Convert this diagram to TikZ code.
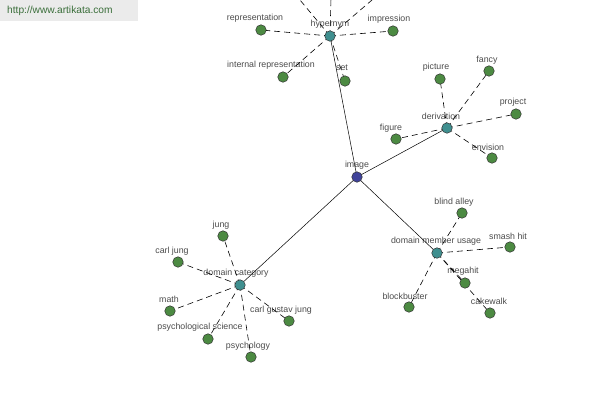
\documentclass[tikz,border=0pt]{standalone}
\usepackage{fontspec}
\setmainfont{Liberation Sans}
\usetikzlibrary{backgrounds}
\begin{document}
\begin{tikzpicture}[x=1pt,y=-1pt,
  leaf/.style={circle,draw=black!80,fill=leafgreen,line width=0.5pt,minimum size=10.5pt,inner sep=0pt},
  hub/.style={circle,draw=black!80,fill=hubteal,line width=0.5pt,minimum size=10.5pt,inner sep=0pt},
  root/.style={circle,draw=black!80,fill=rootblue,line width=0.5pt,minimum size=10.5pt,inner sep=0pt},
  lbl/.style={inner sep=0pt,text=black!70,font=\fontsize{8.8}{10}\selectfont},
  solidedge/.style={draw=black,line width=0.5pt},
  dashedge/.style={draw=black,line width=0.6pt,dash pattern=on 6pt off 4pt}]
\definecolor{leafgreen}{HTML}{4C8A42}
\definecolor{hubteal}{HTML}{3F8F8F}
\definecolor{rootblue}{HTML}{40439A}
\definecolor{wmgreen}{HTML}{3A6E3A}
\useasboundingbox (0,0) rectangle (600,400);
\clip (0,0) rectangle (600,400);

% nodes
\node[root] (img) at (357,177) {};
\node[hub] (hyp) at (330,36) {};
\node[hub] (der) at (447,128) {};
\node[hub] (dmu) at (437,253) {};
\node[hub] (dc) at (240,285) {};
\coordinate (off1) at (270,-36);
\coordinate (off2) at (332,-40);
\coordinate (off3) at (414,-36);

\node[leaf] (rep) at (261,30) {};
\node[leaf] (imp) at (393,31) {};
\node[leaf] (int) at (283,77) {};
\node[leaf] (set) at (345,81) {};
\node[leaf] (pic) at (440,79) {};
\node[leaf] (fan) at (489,71) {};
\node[leaf] (pro) at (516,114) {};
\node[leaf] (fig) at (396,139) {};
\node[leaf] (env) at (492,158) {};
\node[leaf] (bli) at (462,213) {};
\node[leaf] (sma) at (510,247) {};
\node[leaf] (meg) at (465,283) {};
\node[leaf] (cak) at (490,313) {};
\node[leaf] (blo) at (409,307) {};
\node[leaf] (jun) at (223,236) {};
\node[leaf] (cj) at (178,262) {};
\node[leaf] (mat) at (170,311) {};
\node[leaf] (psc) at (208,339) {};
\node[leaf] (cgj) at (289,321) {};
\node[leaf] (psy) at (251,357) {};

\begin{scope}[on background layer]
\fill[white] (0,0) rectangle (600,400);
\fill[black!8] (0,0) rectangle (138,21);
\node[inner sep=0pt,text=wmgreen,font=\fontsize{10.2}{12}\selectfont,anchor=west] (wm) at (7,11) {http://www.artikata.com};

% labels
\node[lbl] (l-img) at (357,165) {image};
\node[lbl] (l-hyp) at (330,24) {hypernym};
\node[lbl] (l-rep) at (255,18) {representation};
\node[lbl] (l-imp) at (389,19) {impression};
\node[lbl] (l-int) at (271,65) {internal representation};
\node[lbl] (l-set) at (342,68) {set};
\node[lbl] (l-der) at (441,116) {derivation};
\node[lbl] (l-pic) at (436,67) {picture};
\node[lbl] (l-fan) at (487,60) {fancy};
\node[lbl] (l-pro) at (513,102) {project};
\node[lbl] (l-fig) at (391,128) {figure};
\node[lbl] (l-env) at (488,147) {envision};
\node[lbl] (l-dmu) at (436,241) {domain member usage};
\node[lbl] (l-bli) at (454,202) {blind alley};
\node[lbl] (l-sma) at (508,236) {smash hit};
\node[lbl] (l-meg) at (463,271) {megahit};
\node[lbl] (l-cak) at (489,301) {cakewalk};
\node[lbl] (l-blo) at (405,296) {blockbuster};
\node[lbl] (l-dc) at (236,273) {domain category};
\node[lbl] (l-jun) at (221,225) {jung};
\node[lbl] (l-cj) at (172,251) {carl jung};
\node[lbl] (l-mat) at (169,299) {math};
\node[lbl] (l-psc) at (200,327) {psychological science};
\node[lbl] (l-cgj) at (281,310) {carl gustav jung};
\node[lbl] (l-psy) at (248,346) {psychology};

% solid edges
\draw[solidedge] (img.center) -- (hyp.center);
\draw[solidedge] (img.center) -- (der.center);
\draw[solidedge] (img.center) -- (dmu.center);
\draw[solidedge] (img.center) -- (dc.center);

% dashed edges
\foreach \a in {rep,imp,int,set} \draw[dashedge] (hyp.center) -- (\a.center);
\foreach \a in {off1,off2,off3} \draw[dashedge] (hyp.center) -- (\a);
\foreach \a in {pic,fan,pro,fig,env} \draw[dashedge] (der.center) -- (\a.center);
\foreach \a in {bli,sma,meg,cak,blo} \draw[dashedge] (dmu.center) -- (\a.center);
\foreach \a in {jun,cj,mat,psc,cgj,psy} \draw[dashedge] (dc.center) -- (\a.center);
\end{scope}
\end{tikzpicture}
\end{document}
